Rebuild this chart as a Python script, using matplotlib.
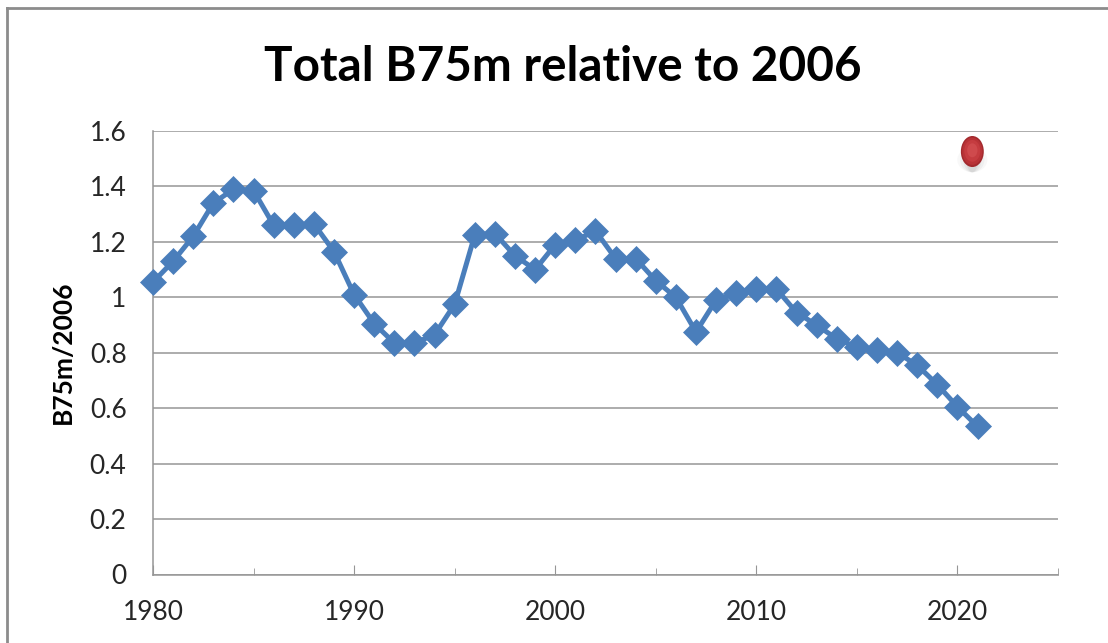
import matplotlib
matplotlib.use("Agg")
from matplotlib import pyplot as plt
from matplotlib.lines import Line2D
from matplotlib.patches import Ellipse

years = list(range(1980, 2022))
values = [1.055, 1.13, 1.22, 1.34, 1.39, 1.385, 1.26, 1.26, 1.265, 1.165,
          1.01, 0.905, 0.835, 0.835, 0.865, 0.975, 1.225, 1.23, 1.15, 1.10,
          1.19, 1.205, 1.24, 1.14, 1.14, 1.06, 1.00, 0.875, 0.99, 1.015,
          1.03, 1.03, 0.945, 0.90, 0.85, 0.82, 0.81, 0.80, 0.755, 0.685,
          0.605, 0.534]
red_year = 2020.74
red_value = 1.526
yticks = [0, 0.2, 0.4, 0.6, 0.8, 1, 1.2, 1.4, 1.6]
ytick_labels = ["0", "0.2", "0.4", "0.6", "0.8", "1", "1.2", "1.4", "1.6"]
xticks = [1980, 1990, 2000, 2010, 2020]
xticks_minor = [1985, 1995, 2005, 2015, 2025]

W, H = 1108, 643


def main():
    plt.rcParams["font.family"] = ["Lato", "DejaVu Sans"]
    fig = plt.figure(figsize=(W / 100, H / 100), dpi=100)

    # frame: only left and top edges are in the picture
    fig.add_artist(Line2D([7 / W, 7 / W], [0, 1 - 8 / H], color="#8c8c8c", linewidth=2))
    fig.add_artist(Line2D([7 / W, 1], [1 - 8 / H, 1 - 8 / H], color="#8c8c8c", linewidth=2))

    ax = fig.add_axes([153 / W, 1 - 574.5 / H, 905 / W, 443.5 / H])
    ax.set_xlim(1980, 2025)
    ax.set_ylim(0, 1.6)
    ax.set_facecolor("none")
    ax.grid(axis="y", color="#969696", linewidth=1.1)
    ax.set_axisbelow(True)
    for s in ["top", "right"]:
        ax.spines[s].set_visible(False)
    for s in ["left", "bottom"]:
        ax.spines[s].set_color("#969696")
        ax.spines[s].set_linewidth(1.1)

    ax.plot(years, values, color="#4a7ebb", linewidth=3.6, marker="D", markersize=13.5,
            markeredgecolor="#4a7ebb", markeredgewidth=0.5, clip_on=False, zorder=3)

    # red ball with a soft shadow under it
    for dw, alpha in [(1.5, 0.05), (1.2, 0.07), (0.9, 0.09), (0.6, 0.12)]:
        ax.add_patch(Ellipse((red_year, red_value - 0.03), dw, 0.09, color="#808080",
                             alpha=alpha, linewidth=0, zorder=3))
    for scale, color in [(1.0, "#a32a2e"), (0.88, "#b83337"), (0.7, "#c53c40"), (0.45, "#cf4a4d")]:
        ax.add_patch(Ellipse((red_year, red_value + 0.008 * (1 - scale)), 1.14 * scale, 0.112 * scale,
                             color=color, linewidth=0, zorder=4))

    ax.set_xticks(xticks)
    ax.set_xticks(xticks_minor, minor=True)
    ax.set_yticks(yticks)
    ax.set_yticklabels(ytick_labels)
    ax.tick_params(axis="y", which="major", labelsize=19, length=0, pad=19, labelcolor="#262626")
    ax.tick_params(axis="x", which="major", labelsize=19, direction="in", length=7, color="#969696",
                   pad=18, labelcolor="#262626")
    ax.tick_params(axis="x", which="minor", direction="in", length=5, color="#969696")

    fig.text(563 / W, 1 - 67 / H, "Total B75m relative to 2006", fontsize=34.3, fontweight="bold",
             ha="center", va="center")
    fig.text(63 / W, 1 - 352 / H, "B75m/2006", fontsize=19, fontweight="bold", rotation=90,
             ha="center", va="center")

    fig.savefig("out.png", dpi=100)


if __name__ == "__main__":
    main()
